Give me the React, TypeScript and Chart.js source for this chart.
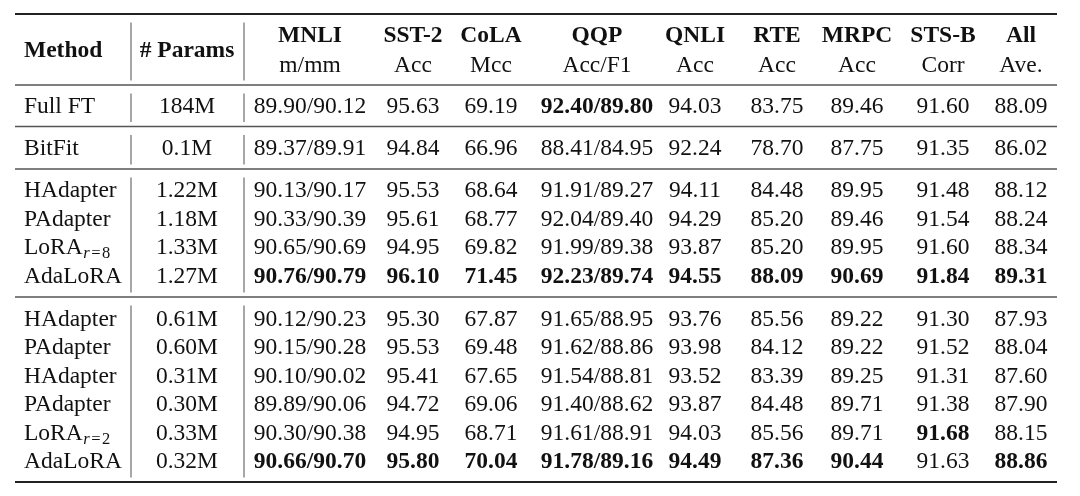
import React, { useEffect, useRef } from "react";
import { Chart, registerables } from "chart.js";

Chart.register(...registerables);

// ---------- data ----------
const methods = ["Full FT", "BitFit", "HAdapter", "PAdapter", "LoRA", "AdaLoRA", "HAdapter", "PAdapter", "HAdapter", "PAdapter", "LoRA", "AdaLoRA"];
const methodSubs = ["", "", "", "", "r=8", "", "", "", "", "", "r=2", ""];
const params = ["184M", "0.1M", "1.22M", "1.18M", "1.33M", "1.27M", "0.61M", "0.60M", "0.31M", "0.30M", "0.33M", "0.32M"];

const taskNames = ["MNLI", "SST-2", "CoLA", "QQP", "QNLI", "RTE", "MRPC", "STS-B", "All"];
const metricNames = ["m/mm", "Acc", "Mcc", "Acc/F1", "Acc", "Acc", "Acc", "Corr", "Ave."];

const mnli = ["89.90/90.12", "89.37/89.91", "90.13/90.17", "90.33/90.39", "90.65/90.69", "90.76/90.79", "90.12/90.23", "90.15/90.28", "90.10/90.02", "89.89/90.06", "90.30/90.38", "90.66/90.70"];
const sst2 = [95.63, 94.84, 95.53, 95.61, 94.95, 96.10, 95.30, 95.53, 95.41, 94.72, 94.95, 95.80];
const cola = [69.19, 66.96, 68.64, 68.77, 69.82, 71.45, 67.87, 69.48, 67.65, 69.06, 68.71, 70.04];
const qqp = ["92.40/89.80", "88.41/84.95", "91.91/89.27", "92.04/89.40", "91.99/89.38", "92.23/89.74", "91.65/88.95", "91.62/88.86", "91.54/88.81", "91.40/88.62", "91.61/88.91", "91.78/89.16"];
const qnli = [94.03, 92.24, 94.11, 94.29, 93.87, 94.55, 93.76, 93.98, 93.52, 93.87, 94.03, 94.49];
const rte = [83.75, 78.70, 84.48, 85.20, 85.20, 88.09, 85.56, 84.12, 83.39, 84.48, 85.56, 87.36];
const mrpc = [89.46, 87.75, 89.95, 89.46, 89.95, 90.69, 89.22, 89.22, 89.25, 89.71, 89.71, 90.44];
const stsb = [91.60, 91.35, 91.48, 91.54, 91.60, 91.84, 91.30, 91.52, 91.31, 91.38, 91.68, 91.63];
const allAve = [88.09, 86.02, 88.12, 88.24, 88.34, 89.31, 87.93, 88.04, 87.60, 87.90, 88.15, 88.86];

// rows whose value is bold, per task column
const boldMnli = [5, 11];
const boldSst2 = [5, 11];
const boldCola = [5, 11];
const boldQqp = [0, 5, 11];
const boldQnli = [5, 11];
const boldRte = [5, 11];
const boldMrpc = [5, 11];
const boldStsb = [5, 10];
const boldAll = [5, 11];

// ---------- layout (scale units = pixels) ----------
const W = 1080;
const H = 496;
const methodX = 24;
const paramsX = 187;
const taskX = [310, 413, 491, 597, 695, 777, 857, 943, 1021];
const rowBase = [112.7, 155, 197.3, 226, 254, 283, 325.7, 354.3, 382.8, 411.2, 439.6, 468];
const headBase1 = 41.5;
const headBase2 = 72;
const headMid = 56.5;
const rules = [14, 85, 126.5, 169, 297, 482];
const vLines = [131, 244];
const ruleX0 = 15;
const ruleX1 = 1057;

const FONT = "'Liberation Serif', 'Times New Roman', Times, serif";
const FS = 23.5;
const SFS = 16.5;

const fmt = (v: number | string) => (typeof v === "number" ? v.toFixed(2) : v);

export default function App() {
  const ref = useRef<HTMLCanvasElement | null>(null);

  useEffect(() => {
    if (!ref.current) return;
    const columns: (number | string)[][] = [mnli, sst2, cola, qqp, qnli, rte, mrpc, stsb, allAve];
    const bolds = [boldMnli, boldSst2, boldCola, boldQqp, boldQnli, boldRte, boldMrpc, boldStsb, boldAll];

    const datasets: any[] = [];
    datasets.push({
      label: "Method",
      data: methods.map((_, r) => ({ x: methodX, y: rowBase[r] })),
      texts: methods,
      subs: methodSubs,
      align: "left",
      boldRows: [],
      pointRadius: 0,
    });
    datasets.push({
      label: "# Params",
      data: params.map((_, r) => ({ x: paramsX, y: rowBase[r] })),
      texts: params,
      align: "center",
      boldRows: [],
      pointRadius: 0,
    });
    columns.forEach((col, c) => {
      datasets.push({
        label: taskNames[c],
        data: col.map((_, r) => ({ x: taskX[c], y: rowBase[r] })),
        texts: col.map(fmt),
        align: "center",
        boldRows: bolds[c],
        pointRadius: 0,
      });
    });

    const tablePlugin = {
      id: "tablePlugin",
      beforeDraw(chart: any) {
        const ctx = chart.ctx;
        ctx.save();
        ctx.fillStyle = "#ffffff";
        ctx.fillRect(0, 0, chart.width, chart.height);
        ctx.restore();
      },
      afterDraw(chart: any) {
        const ctx = chart.ctx as CanvasRenderingContext2D;
        const xs = chart.scales.x;
        const ys = chart.scales.y;
        ctx.save();

        // horizontal rules
        rules.forEach((ry, i) => {
          const thick = i === 0 || i === rules.length - 1;
          ctx.beginPath();
          ctx.lineWidth = thick ? 2 : 1.3;
          ctx.strokeStyle = thick ? "#222" : "#555";
          const py = ys.getPixelForValue(ry);
          ctx.moveTo(xs.getPixelForValue(ruleX0), py);
          ctx.lineTo(xs.getPixelForValue(ruleX1), py);
          ctx.stroke();
        });

        // vertical separators, broken at each rule
        ctx.lineWidth = 1.3;
        ctx.strokeStyle = "#777";
        for (let i = 0; i < rules.length - 1; i++) {
          const y0 = ys.getPixelForValue(rules[i] + 8.5);
          const y1 = ys.getPixelForValue(rules[i + 1] - 4.5);
          vLines.forEach((vx) => {
            const px = xs.getPixelForValue(vx);
            ctx.beginPath();
            ctx.moveTo(px, y0);
            ctx.lineTo(px, y1);
            ctx.stroke();
          });
        }

        ctx.fillStyle = "#111";
        ctx.textBaseline = "alphabetic";

        // header
        ctx.font = `bold ${FS}px ${FONT}`;
        ctx.textAlign = "left";
        ctx.fillText("Method", xs.getPixelForValue(methodX), ys.getPixelForValue(headMid));
        ctx.textAlign = "center";
        ctx.fillText("# Params", xs.getPixelForValue(paramsX), ys.getPixelForValue(headMid));
        taskNames.forEach((t, c) => {
          ctx.font = `bold ${FS}px ${FONT}`;
          ctx.fillText(t, xs.getPixelForValue(taskX[c]), ys.getPixelForValue(headBase1));
          ctx.font = `${FS}px ${FONT}`;
          ctx.fillText(metricNames[c], xs.getPixelForValue(taskX[c]), ys.getPixelForValue(headBase2));
        });

        // cells
        chart.data.datasets.forEach((ds: any, di: number) => {
          const meta = chart.getDatasetMeta(di);
          meta.data.forEach((el: any, r: number) => {
            const bold = ds.boldRows.includes(r);
            ctx.font = `${bold ? "bold " : ""}${FS}px ${FONT}`;
            ctx.textAlign = ds.align;
            const text = ds.texts[r];
            ctx.fillText(text, el.x, el.y);
            if (ds.subs && ds.subs[r]) {
              const w = ctx.measureText(text).width;
              const sub = ds.subs[r];
              let sx = el.x + w + 0.5;
              const sy = el.y + 4;
              ctx.textAlign = "left";
              ctx.font = `italic ${SFS}px ${FONT}`;
              ctx.fillText(sub[0], sx, sy);
              sx += ctx.measureText(sub[0]).width + 1.5;
              ctx.font = `${SFS}px ${FONT}`;
              ctx.fillText("=", sx, sy);
              sx += ctx.measureText("=").width + 1.5;
              ctx.fillText(sub.slice(2), sx, sy);
            }
          });
        });

        ctx.restore();
      },
    };

    const chart = new Chart(ref.current, {
      type: "scatter",
      data: { datasets },
      options: {
        animation: false,
        responsive: false,
        maintainAspectRatio: false,
        events: [],
        layout: { padding: 0 },
        plugins: { legend: { display: false }, tooltip: { enabled: false } },
        scales: {
          x: { type: "linear", min: 0, max: W, display: false },
          y: { type: "linear", min: 0, max: H, reverse: true, display: false },
        },
      },
      plugins: [tablePlugin],
    } as any);

    return () => chart.destroy();
  }, []);

  return (
    <div style={{ position: "fixed", left: 0, top: 0, width: W, height: H, background: "#fff" }}>
      <canvas ref={ref} width={W} height={H} style={{ width: W, height: H, display: "block" }} />
    </div>
  );
}
